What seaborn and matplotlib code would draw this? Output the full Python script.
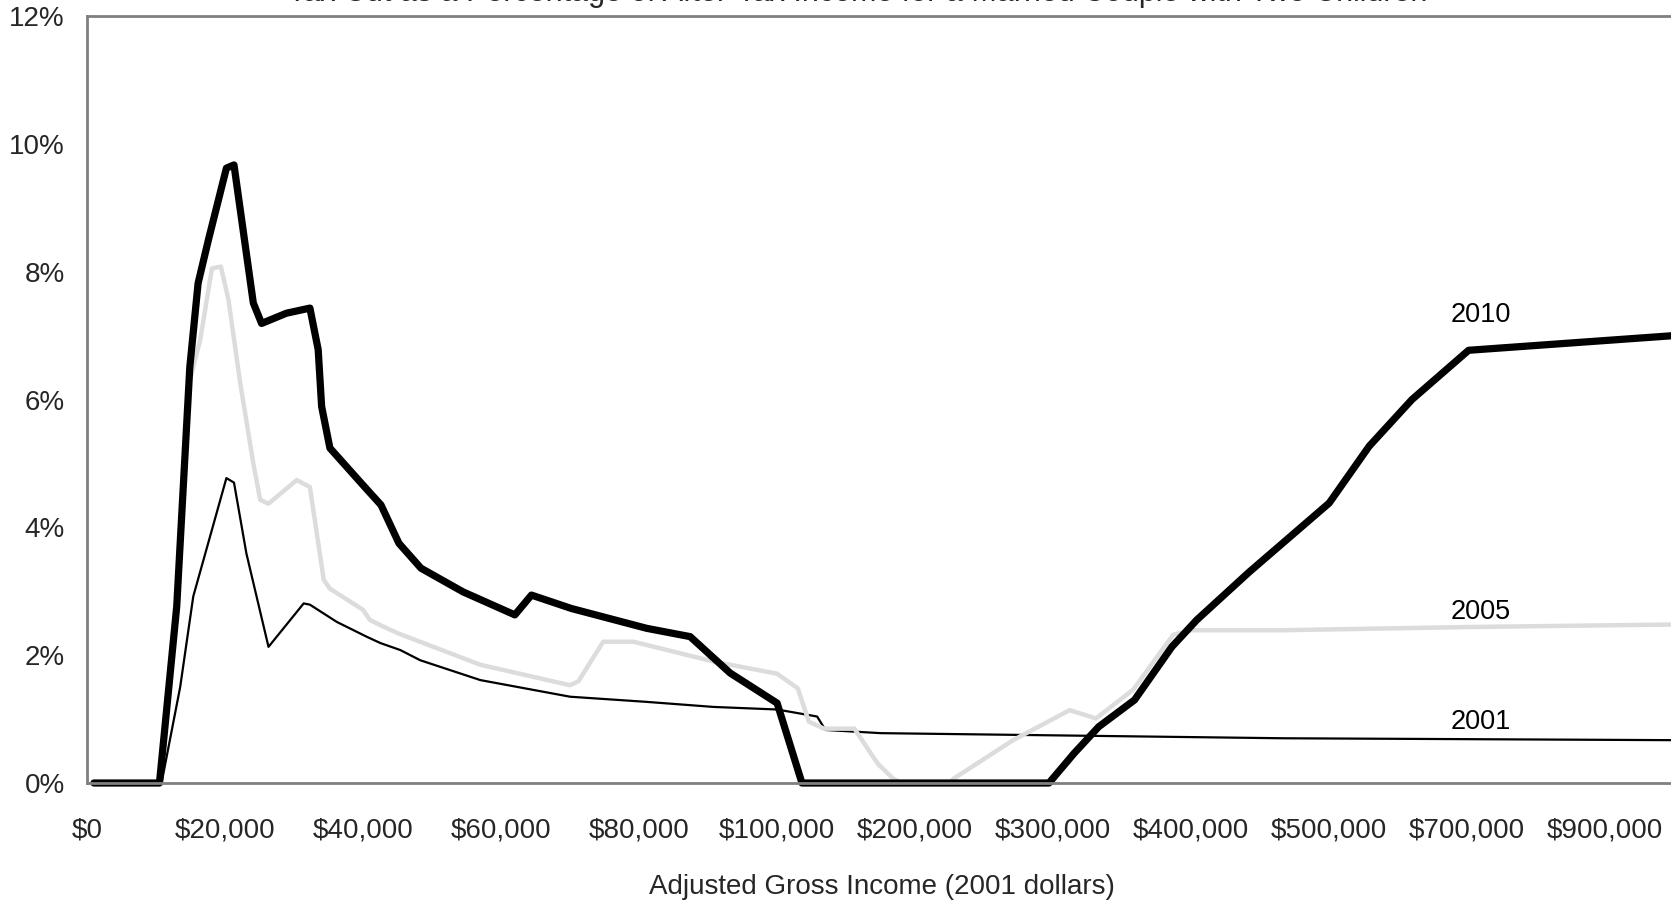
import numpy as np
import matplotlib
matplotlib.use("Agg")
import matplotlib.pyplot as plt
import seaborn as sns

# tick labels of the (piecewise) income axis
tick_incomes = [0, 20000, 40000, 60000, 80000, 100000, 200000, 300000, 400000, 500000, 700000, 900000]
tick_labels = ["$0", "$20,000", "$40,000", "$60,000", "$80,000", "$100,000", "$200,000",
               "$300,000", "$400,000", "$500,000", "$700,000", "$900,000"]

# 2001 - thin black
income_2001 = [1000, 10800, 13500, 15400, 20200, 21300, 23100, 26300, 31400, 32300, 36200, 40500,
               42500, 45400, 48300, 57000, 70000, 81000, 90800, 100000, 129000, 135000, 175000,
               466000, 1000000]
pct_2001 = [0.0, 0.0, 1.5, 2.92, 4.77, 4.70, 3.59, 2.13, 2.81, 2.79, 2.52, 2.29,
            2.19, 2.08, 1.92, 1.61, 1.35, 1.27, 1.19, 1.15, 1.04, 0.83, 0.78,
            0.70, 0.67]

# 2005 - light grey
income_2005 = [1000, 10500, 13000, 14900, 16400, 18100, 19400, 20500, 22200, 24100, 25100, 26300,
               30400, 32300, 34300, 35200, 40000, 41000, 42500, 45100, 57000, 70000, 71200,
               74800, 79200, 90800, 100000, 115000, 123000, 134000, 156000, 173000, 184000,
               190000, 225000, 228000, 271000, 312000, 331000, 358000, 387000, 400000, 466000,
               700000, 1000000]
pct_2005 = [0.0, 0.0, 2.7, 6.3, 6.93, 8.05, 8.08, 7.56, 6.26, 5.0, 4.43, 4.37,
            4.74, 4.63, 3.18, 3.04, 2.71, 2.55, 2.47, 2.34, 1.85, 1.53, 1.59,
            2.21, 2.21, 1.90, 1.71, 1.48, 0.96, 0.85, 0.85, 0.30, 0.07,
            0.0, 0.0, 0.07, 0.67, 1.14, 1.01, 1.46, 2.32, 2.39, 2.39,
            2.44, 2.48]

# 2010 - thick black
income_2010 = [1000, 10500, 13000, 14900, 16100, 17600, 20200, 21300, 24100, 25300, 28900, 32300,
               33500, 34000, 35200, 40000, 42600, 45200, 48400, 54500, 62000, 64400, 70200,
               81100, 87400, 93200, 100000, 118000, 297000, 315000, 333000, 359000, 386000,
               404000, 442000, 500000, 558000, 620000, 702000, 1000000]
pct_2010 = [0.0, 0.0, 2.76, 6.51, 7.82, 8.5, 9.62, 9.67, 7.51, 7.19, 7.35, 7.43,
            6.78, 5.89, 5.24, 4.66, 4.35, 3.75, 3.36, 2.99, 2.63, 2.94, 2.73,
            2.42, 2.29, 1.72, 1.25, 0.0, 0.0, 0.46, 0.88, 1.30, 2.13,
            2.55, 3.3, 4.38, 5.27, 6.0, 6.77, 7.0]

series_names = ["2001", "2005", "2010"]
label_y = [0.95, 2.68, 7.32]

# piecewise axis: every labelled income is one equal step
knots_x = np.array(tick_incomes + [1100000], dtype=float)
knots_p = np.arange(len(knots_x), dtype=float)


def fwd(v):
    return np.interp(v, knots_x, knots_p, left=0, right=knots_p[-1])


def inv(p):
    return np.interp(p, knots_p, knots_x)


sns.set_style("white")
plt.rcParams["font.family"] = ["Liberation Sans", "DejaVu Sans"]

fig = plt.figure(figsize=(16.71, 9.07), dpi=100)
ax = fig.add_axes([87 / 1671, (907 - 783) / 907, 1590 / 1671, (783 - 16) / 907])
ax.set_xscale("function", functions=(fwd, inv))

sns.lineplot(x=income_2001, y=pct_2001, ax=ax, color="black", linewidth=1.6, sort=False, clip_on=False)
sns.lineplot(x=income_2005, y=pct_2005, ax=ax, color="#dcdcdc", linewidth=3.2, sort=False, clip_on=False)
sns.lineplot(x=income_2010, y=pct_2010, ax=ax, color="black", linewidth=5.2, sort=False, clip_on=False)

for name, yy in zip(series_names, label_y):
    ax.text(720000, yy, name, fontsize=19.5, ha="center", va="center", color="black")

ax.set_xlim(0, 1004000)
ax.set_ylim(0, 12)
ax.set_xticks(tick_incomes)
ax.set_xticklabels(tick_labels)
ax.set_yticks(range(0, 13, 2))
ax.set_yticklabels([f"{v}%" for v in range(0, 13, 2)])
ax.xaxis.set_minor_locator(matplotlib.ticker.NullLocator())

ax.tick_params(axis="x", direction="in", length=6, width=1.2, color="#555555", pad=25, labelsize=20)
ax.tick_params(axis="y", direction="in", length=8, width=1.2, color="#555555", pad=16, labelsize=20)

for side in ["left", "bottom", "top"]:
    ax.spines[side].set_color("#808080")
    ax.spines[side].set_linewidth(2)
ax.spines["right"].set_visible(False)

ax.set_xlabel("Adjusted Gross Income (2001 dollars)", fontsize=20, labelpad=22)
ax.set_ylabel("")

fig.text(858 / 1671, 1 - 1 / 907,
         "Tax Cut as a Percentage of After-Tax Income for a Married Couple with Two Children",
         fontsize=22, ha="center", va="baseline")

fig.savefig("out.png", dpi=100)
